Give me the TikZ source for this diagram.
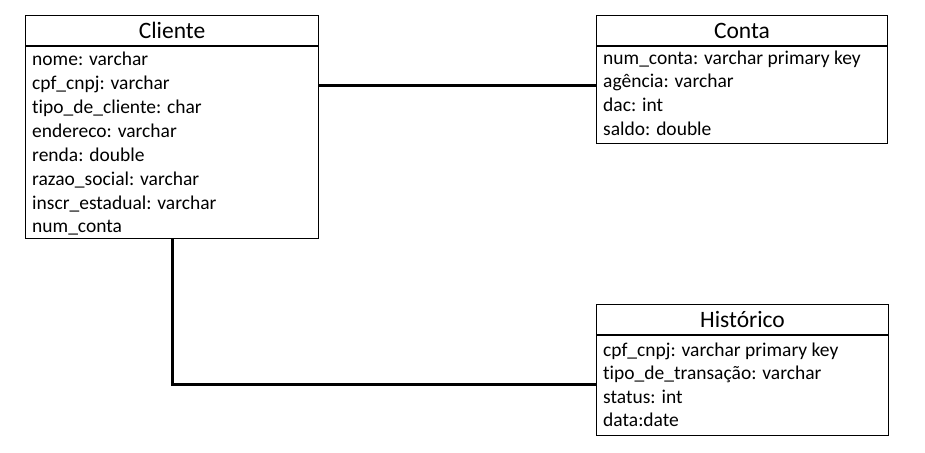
\documentclass[tikz,border=0pt]{standalone}
\usepackage{fontspec}
\setmainfont{Carlito}[Ligatures=CommonOff]
\usepackage{xcolor}
\usepackage{tikz}
\usetikzlibrary{calc}
\tikzset{
  head/.style={draw=black, line width=1pt, inner sep=0pt, minimum height=30pt,
    font=\fontsize{23.5}{28}\selectfont},
  body/.style={draw=black, line width=1pt, inner sep=0pt, anchor=north west},
  field/.style={inner sep=0pt, anchor=base west, font=\fontsize{19.5}{24}\selectfont},
  link/.style={draw=black, line width=3pt},
}

\begin{document}
\begin{tikzpicture}[x=1pt, y=-1pt]
  \useasboundingbox (0,0) rectangle (925,452);

  % Cliente
  \node[head, minimum width=293pt, anchor=north west] (cliHead) at (25,15) {Cliente};
  \node[body, minimum width=293pt, minimum height=192pt] (cliBody) at (cliHead.south west) {};
  \foreach \f [count=\i] in {nome: varchar, cpf\_cnpj: varchar, tipo\_de\_cliente: char,
      endereco: varchar, renda: double, razao\_social: varchar,
      inscr\_estadual: varchar, num\_conta}
    \node[field] (cli-\i) at (32,{66+23.85*(\i-1)}) {\f};

  % Conta
  \node[head, minimum width=291pt, anchor=north west] (contaHead) at (596,15) {Conta};
  \node[body, minimum width=291pt, minimum height=97pt] (contaBody) at (contaHead.south west) {};
  \foreach \f [count=\i] in {num\_conta: varchar primary key, agência: varchar,
      dac: int, saldo: double}
    \node[field] (conta-\i) at (603,{64+23.7*(\i-1)}) {\f};

  % Historico
  \node[head, minimum width=292pt, anchor=north west] (histHead) at (596,304) {Histórico};
  \node[body, minimum width=292pt, minimum height=100pt] (histBody) at (histHead.south west) {};
  \foreach \f [count=\i] in {cpf\_cnpj: varchar primary key, tipo\_de\_transação: varchar,
      status: int, data:date}
    \node[field] (hist-\i) at (603,{356+23.6*(\i-1)}) {\f};

  \draw[link] (cliBody.east |- 0,85) -- (contaBody.west |- 0,85);
  \draw[link] (cliBody.south) |- (histBody.west |- 0,384);
\end{tikzpicture}
\end{document}
